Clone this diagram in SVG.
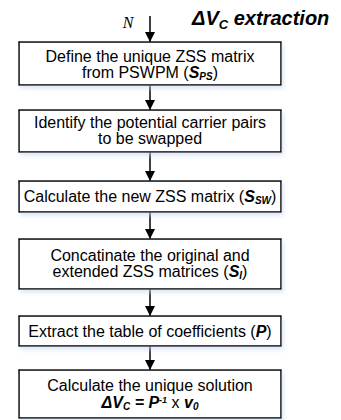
<svg xmlns="http://www.w3.org/2000/svg" width="341" height="420" viewBox="0 0 341 420">
<style>
.box{fill:#fff;stroke:#000;stroke-width:1.5}
.t{font-family:"Liberation Sans",Arial,sans-serif;font-size:16px;text-anchor:middle;fill:#000}
.b{font-weight:bold;font-style:italic}
.sub{font-size:10px}
.ln{stroke:#000;stroke-width:1.5;fill:none}
</style>
<defs>
<marker id="ah" viewBox="0 0 10 10" refX="10" refY="5" markerWidth="10" markerHeight="10" markerUnits="userSpaceOnUse" orient="auto">
<path d="M0,0 L10,5 L0,10 z" fill="#000"/>
</marker>
<filter id="sh" x="-10%" y="-10%" width="130%" height="140%">
<feDropShadow dx="2" dy="3" stdDeviation="2" flood-color="#c8d8f0" flood-opacity="0.6"/>
</filter>
</defs>
<text x="192" y="25" font-family="'Liberation Sans',Arial,sans-serif" font-size="20" font-weight="bold" font-style="italic">ΔV<tspan font-size="13" dy="4">C</tspan><tspan dy="-4"> extraction</tspan></text>
<text x="128" y="28" font-family="'Liberation Serif','Times New Roman',serif" font-size="16" font-style="italic" text-anchor="middle">N</text>
<g id="connectors">
<line class="ln" x1="150" y1="16" x2="150" y2="42" marker-end="url(#ah)"/>
<line class="ln" x1="150" y1="85" x2="150" y2="110" marker-end="url(#ah)"/>
<line class="ln" x1="150" y1="152" x2="150" y2="181" marker-end="url(#ah)"/>
<line class="ln" x1="150" y1="212" x2="150" y2="239" marker-end="url(#ah)"/>
<line class="ln" x1="150" y1="289" x2="150" y2="316" marker-end="url(#ah)"/>
<line class="ln" x1="150" y1="346" x2="150" y2="370" marker-end="url(#ah)"/>
</g>
<g id="n1"><rect class="box" x="19" y="42" width="262" height="43" filter="url(#sh)"/>
<text class="t" x="150" y="62">Define the unique ZSS  matrix</text>
<text class="t" x="150" y="77.5">from PSWPM (<tspan class="b">S</tspan><tspan class="b sub" dy="2">PS</tspan><tspan dy="-2">)</tspan></text></g>
<g id="n2"><rect class="box" x="19" y="110" width="262" height="42" filter="url(#sh)"/>
<text class="t" x="150" y="128">Identify the potential carrier pairs</text>
<text class="t" x="150" y="143.5">to be swapped</text></g>
<g id="n3"><rect class="box" x="19" y="181" width="262" height="31" filter="url(#sh)"/>
<text class="t" x="150" y="202">Calculate the new ZSS matrix  (<tspan class="b">S</tspan><tspan class="b sub" dy="2">SW</tspan><tspan dy="-2">)</tspan></text></g>
<g id="n4"><rect class="box" x="19" y="239" width="262" height="50" filter="url(#sh)"/>
<text class="t" x="150" y="260.5">Concatinate the original and</text>
<text class="t" x="150" y="277">extended ZSS matrices (<tspan class="b">S</tspan><tspan class="b sub" dy="2">I</tspan><tspan dy="-2">)</tspan></text></g>
<g id="n5"><rect class="box" x="19" y="316" width="262" height="30" filter="url(#sh)"/>
<text class="t" x="150" y="337">Extract the table of coefficients (<tspan class="b">P</tspan>)</text></g>
<g id="n6"><rect class="box" x="19" y="370" width="262" height="48" filter="url(#sh)"/>
<text class="t" x="150" y="391">Calculate the unique solution</text>
<text class="t" x="150" y="408"><tspan class="b">ΔV</tspan><tspan class="b sub" dy="2">C</tspan><tspan class="b" dy="-2"> = P</tspan><tspan class="b" font-size="9" dy="-5">-1</tspan><tspan dy="5"> x </tspan><tspan class="b">v</tspan><tspan class="b sub" dy="2">0</tspan></text></g>
</svg>
